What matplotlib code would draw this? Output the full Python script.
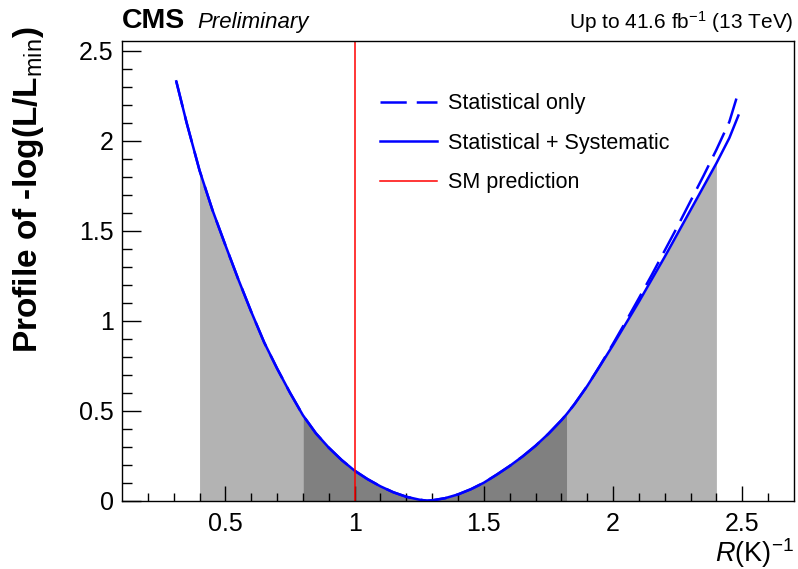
import numpy as np
import matplotlib
matplotlib.use("Agg")
import matplotlib.pyplot as plt

plt.rcParams['font.family'] = ['Liberation Sans', 'DejaVu Sans']
plt.rcParams['mathtext.fontset'] = 'custom'
plt.rcParams['mathtext.rm'] = 'Liberation Sans'
plt.rcParams['mathtext.it'] = 'Liberation Sans:italic'
plt.rcParams['mathtext.bf'] = 'Liberation Sans:bold'

# profile scan values
r_vals = [0.31, 0.35, 0.4, 0.45, 0.5, 0.55, 0.6, 0.65, 0.7, 0.75, 0.8, 0.85, 0.9, 0.95,
          1.0, 1.05, 1.1, 1.15, 1.2, 1.25, 1.28, 1.3, 1.35, 1.4, 1.45, 1.5, 1.55, 1.6,
          1.65, 1.7, 1.75, 1.8, 1.82, 1.85, 1.9, 1.95, 2.0, 2.05, 2.1, 2.15, 2.2, 2.25,
          2.3, 2.35, 2.4, 2.45, 2.485]
nll_syst = [2.33, 2.10, 1.835, 1.615, 1.42, 1.23, 1.05, 0.88, 0.735, 0.6, 0.475, 0.375,
            0.295, 0.226, 0.167, 0.12, 0.08, 0.047, 0.022, 0.006, 0.0, 0.002, 0.014,
            0.035, 0.064, 0.1, 0.145, 0.193, 0.246, 0.305, 0.372, 0.447, 0.48, 0.535,
            0.637, 0.75, 0.865, 0.985, 1.105, 1.23, 1.355, 1.485, 1.615, 1.745, 1.875,
            2.015, 2.14]
nll_stat = [2.33, 2.10, 1.835, 1.615, 1.42, 1.23, 1.05, 0.88, 0.735, 0.6, 0.475, 0.375,
            0.295, 0.226, 0.167, 0.12, 0.08, 0.047, 0.022, 0.006, 0.0, 0.002, 0.014,
            0.035, 0.064, 0.1, 0.145, 0.193, 0.246, 0.305, 0.372, 0.447, 0.48, 0.535,
            0.637, 0.752, 0.872, 0.997, 1.125, 1.255, 1.39, 1.525, 1.665, 1.805, 1.95,
            2.105, 2.27]
# interval edges (68% dark, 95% light)
band_inner = (0.8, 1.82)
band_outer = (0.4, 2.4)
sm_value = 1.0

x = np.array(r_vals)
y = np.array(nll_syst)

fig = plt.figure(figsize=(7.98, 5.69), dpi=100)
ax = fig.add_axes([0.1529, 0.120, 0.842, 0.8085])

light = '#b3b3b3'
dark = '#808080'
m = (x >= band_outer[0]) & (x <= band_inner[0])
ax.fill_between(x[m], 0, y[m], color=light, lw=0)
m = (x >= band_inner[1]) & (x <= band_outer[1])
ax.fill_between(x[m], 0, y[m], color=light, lw=0)
m = (x >= band_inner[0]) & (x <= band_inner[1])
ax.fill_between(x[m], 0, y[m], color=dark, lw=0)

lw = 1.8
ax.plot(r_vals, nll_stat, color='#0000ff', lw=lw, dashes=(10.5, 4), label='Statistical only')
ax.plot(r_vals, nll_syst, color='#0000ff', lw=lw, label='Statistical + Systematic')
ax.axvline(sm_value, color='#ff0000', lw=1.1, label='SM prediction')

ax.set_xlim(0.1, 2.7)
ax.set_ylim(0, 2.556)
ax.set_xticks([0.5, 1, 1.5, 2, 2.5])
ax.set_xticklabels(['0.5', '1', '1.5', '2', '2.5'])
ax.set_yticks([0, 0.5, 1, 1.5, 2, 2.5])
ax.set_yticklabels(['0', '0.5', '1', '1.5', '2', '2.5'])
ax.set_xticks(np.arange(0.2, 2.7, 0.1), minor=True)
ax.set_yticks(np.arange(0.1, 2.55, 0.1), minor=True)
ax.tick_params(axis='both', which='both', direction='in', top=False, right=False,
               width=1.0, labelsize=18)
ax.tick_params(axis='y', which='major', length=14, pad=6)
ax.tick_params(axis='y', which='minor', length=7)
ax.tick_params(axis='x', which='major', length=11, pad=8)
ax.tick_params(axis='x', which='minor', length=6)
for s in ax.spines.values():
    s.set_linewidth(1.0)

leg = ax.legend(loc='upper left', bbox_to_anchor=(0.384, 0.886), frameon=False,
                fontsize=15.5, handlelength=2.65, handletextpad=0.5,
                labelspacing=0.86, borderpad=0, borderaxespad=0)

fig.text(122 / 798, 1 - 28 / 569, 'CMS', fontsize=20.5, fontweight='bold',
         ha='left', va='baseline')
fig.text(197 / 798, 1 - 28 / 569, 'Preliminary', fontsize=16, style='italic',
         ha='left', va='baseline')
fig.text(794 / 798, 1 - 29 / 569, 'Up to 41.6 fb$^{-1}$ (13 TeV)', fontsize=15,
         ha='right', va='baseline')

fig.text(29 / 798, 1 - 27 / 569, 'Profile of -log(L/L$_{\\rm min}$)', fontsize=24,
         fontweight='bold', rotation=90, ha='center', va='top')
fig.text(794 / 798, 1 - 562 / 569, '$\\mathit{R}$(K)$^{-1}$', fontsize=19.5,
         ha='right', va='baseline')

fig.savefig('out.png', dpi=100)
